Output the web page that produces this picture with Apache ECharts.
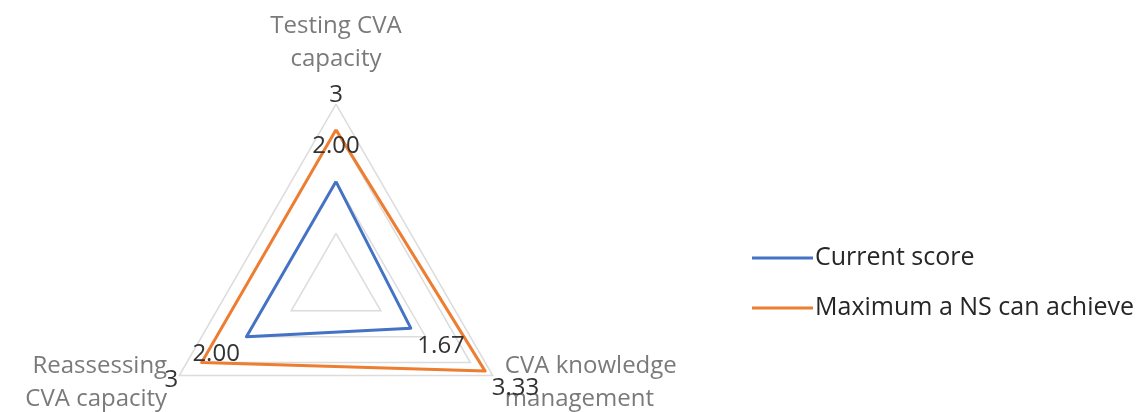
<!DOCTYPE html>
<html>
<head>
<meta charset="utf-8">
<script src="https://cdn.jsdelivr.net/npm/echarts@6/dist/echarts.min.js"></script>
<style>
  html, body { margin: 0; padding: 0; background: #fff; }
  #chart { width: 1139px; height: 412px; }
</style>
</head>
<body>
<div id="chart"></div>
<script>
// indicators go counterclockwise from the top
var indicatorNames = ['Testing CVA\ncapacity', 'Reassessing\nCVA capacity', 'CVA knowledge\nmanagement'];
var currentScore = [2.00, 2.00, 1.67];
var maxAchievable = [3, 3, 3.33];
var seriesNames = ['Current score', 'Maximum a NS can achieve'];
var axisMax = 3.5;

var CX = 336, CY = 285;
var font = '"Open Sans", sans-serif';

// push each value label outward from the radar centre
function pushOut(p) {
    var x = p.rect.x + p.rect.width / 2;
    var y = p.rect.y + p.rect.height / 2;
    var dx = x - CX, dy = y - CY;
    var len = Math.sqrt(dx * dx + dy * dy) || 1;
    return { x: x + dx / len * 35, y: y + dy / len * 35, align: 'center', verticalAlign: 'middle' };
}

var chart = echarts.init(document.getElementById('chart'));
chart.setOption({
    animation: false,
    legend: {
        orient: 'vertical',
        left: 747,
        top: 239,
        itemWidth: 61,
        itemHeight: 3,
        itemGap: 22,
        icon: 'rect',
        textStyle: { fontFamily: font, fontSize: 25, color: '#262626', lineHeight: 28, padding: [0, 0, 0, -3] },
        data: seriesNames
    },
    radar: {
        center: [CX, CY],
        radius: 181,
        startAngle: 90,
        splitNumber: 7,
        shape: 'polygon',
        nameGap: 14,
        axisName: { fontFamily: font, fontSize: 24, color: '#7a7a7a', lineHeight: 33, padding: [0, 0, 14, 0] },
        axisLine: { show: false },
        axisTick: { show: false },
        axisLabel: { show: false },
        splitArea: { show: false },
        splitLine: {
            lineStyle: {
                width: 1.5,
                color: ['rgba(0,0,0,0)', 'rgba(0,0,0,0)', '#dcdcdc', 'rgba(0,0,0,0)',
                        '#dcdcdc', 'rgba(0,0,0,0)', '#dcdcdc', '#dcdcdc']
            }
        },
        indicator: indicatorNames.map(function (n) { return { name: n, min: 0, max: axisMax }; })
    },
    series: [{
        type: 'radar',
        symbol: 'circle',
        symbolSize: 1,
        labelLayout: pushOut,
        data: [{
            name: seriesNames[0],
            value: currentScore,
            itemStyle: { color: '#4472c4' },
            lineStyle: { color: '#4472c4', width: 3 },
            label: {
                show: true, fontFamily: font, fontSize: 24, color: '#333',
                formatter: function (p) { return Number(p.value).toFixed(2); }
            }
        }, {
            name: seriesNames[1],
            value: maxAchievable,
            itemStyle: { color: '#ed7d31' },
            lineStyle: { color: '#ed7d31', width: 3 },
            label: {
                show: true, fontFamily: font, fontSize: 24, color: '#333',
                formatter: function (p) { return String(p.value); }
            }
        }]
    }]
});
</script>
</body>
</html>
